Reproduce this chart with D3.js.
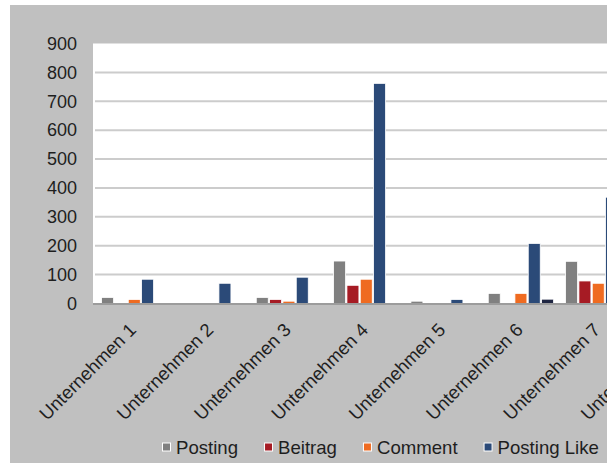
<!DOCTYPE html>
<html>
<head>
<meta charset="utf-8">
<script src="https://cdn.jsdelivr.net/npm/d3@7"></script>
<style>
  body { margin: 0; background: #fff; }
  svg { display: block; }
  text { font-family: "Liberation Sans", Arial, sans-serif; fill: #1e1e1e; }
</style>
</head>
<body>
<div id="chart"></div>
<script>
// Chart data
const categories = ["Unternehmen 1", "Unternehmen 2", "Unternehmen 3", "Unternehmen 4",
                    "Unternehmen 5", "Unternehmen 6", "Unternehmen 7", "Unternehmen 8"];
const seriesNames = ["Posting", "Beitrag", "Comment", "Posting Like", "Comment Like"];
const posting     = [21, 0, 21, 147, 8, 35, 146, null];
const beitrag     = [0, 0, 14, 63, 0, 0, 78, null];
const comment     = [14, 0, 8, 84, 0, 35, 70, null];
const postingLike = [84, 70, 91, 762, 14, 208, 368, null];
const commentLike = [0, 0, 0, 0, 0, 15, null, null];
const yTicks = [0, 100, 200, 300, 400, 500, 600, 700, 800, 900];

const seriesValues = [posting, beitrag, comment, postingLike, commentLike];
const colors = ["#808080", "#a61b24", "#ef6b21", "#2b4a78", "#1f2642"];

const width = 607, height = 463;

const svg = d3.select("#chart")
    .append("svg")
    .attr("width", width)
    .attr("height", height);

// grey chart background
svg.append("rect")
    .attr("x", 10).attr("y", 5)
    .attr("width", width - 10).attr("height", height - 5)
    .attr("fill", "#c0c0c0");

// scales
const y = d3.scaleLinear().domain([0, 900]).range([303.5, 43.5]);
const catW = 77.33;
const x0 = d3.scaleBand()
    .domain(categories)
    .range([95.6, 95.6 + catW * categories.length])
    .padding(0);
const x1 = d3.scaleBand()
    .domain(seriesNames)
    .range([0, x0.bandwidth()])
    .paddingInner(0.1)
    .paddingOuter(0.45);

// plot area
svg.append("rect")
    .attr("x", 93).attr("y", y(900))
    .attr("width", width - 93).attr("height", y(0) - y(900))
    .attr("fill", "#fff");

// gridlines
svg.append("g")
    .selectAll("line")
    .data(yTicks.filter(d => d > 0 && d < 900))
    .enter().append("line")
    .attr("x1", 95).attr("x2", width)
    .attr("y1", d => y(d)).attr("y2", d => y(d))
    .attr("stroke", "#cccccc")
    .attr("stroke-width", 2);

// bars
const rows = [];
seriesNames.forEach((s, si) => {
    categories.forEach((c, ci) => {
        const v = seriesValues[si][ci];
        if (v != null && v > 0) rows.push({series: s, cat: c, value: v, color: colors[si]});
    });
});

svg.append("g")
    .selectAll("rect")
    .data(rows)
    .enter().append("rect")
    .attr("x", d => x0(d.cat) + x1(d.series))
    .attr("y", d => y(d.value))
    .attr("width", x1.bandwidth())
    .attr("height", d => y(0) - y(d.value))
    .attr("fill", d => d.color)
    .attr("stroke", "#fff")
    .attr("stroke-width", 0.8);

// x axis line
svg.append("line")
    .attr("x1", 93).attr("x2", width)
    .attr("y1", y(0) + 0.5).attr("y2", y(0) + 0.5)
    .attr("stroke", "#9c9c9c")
    .attr("stroke-width", 2);

// y axis labels
const yAxis = d3.axisLeft(y).tickValues(yTicks).tickSize(0).tickPadding(0);
const yg = svg.append("g")
    .attr("transform", "translate(77,0)")
    .call(yAxis);
yg.select(".domain").remove();
yg.selectAll("text")
    .attr("font-size", 18)
    .attr("font-family", "Liberation Sans, Arial, sans-serif")
    .attr("fill", "#1e1e1e");

// category labels, rotated
svg.append("g")
    .selectAll("text")
    .data(categories)
    .enter().append("text")
    .attr("transform", d => `translate(${x0(d) + x0.bandwidth() / 2 + 3},331) rotate(-45)`)
    .attr("text-anchor", "end")
    .attr("font-size", 18.5)
    .text(d => d);

// legend
const legend = svg.append("g").attr("transform", "translate(162,447)");
let lx = 0;
seriesNames.forEach((s, i) => {
    const item = legend.append("g").attr("transform", `translate(${lx},0)`);
    item.append("rect")
        .attr("x", 0.5).attr("y", -4)
        .attr("width", 8).attr("height", 8)
        .attr("fill", colors[i])
        .attr("stroke", "#fff")
        .attr("stroke-width", 1);
    const t = item.append("text")
        .attr("x", 14).attr("y", 7)
        .attr("font-size", 18.6)
        .text(s);
    lx += 14 + t.node().getComputedTextLength() + 26;
});
</script>
</body>
</html>
